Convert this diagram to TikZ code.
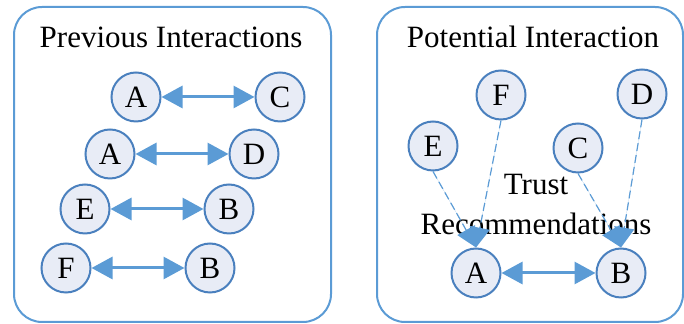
\documentclass[tikz,border=0pt]{standalone}
\usepackage{xcolor}
\usepackage{fontspec}
\setmainfont{Liberation Serif}
\usepackage{tikz}
\usetikzlibrary{arrows.meta}
\usetikzlibrary{calc}
\definecolor{agentfill}{HTML}{E8ECF6}
\definecolor{agentline}{HTML}{4A80BE}
\definecolor{trustline}{HTML}{5B9BD5}

\begin{document}
\begin{tikzpicture}[
  x=0.5pt, y=-0.5pt,
  font=\fontsize{15.5}{20}\selectfont,
  inter/.style ={
    {Triangle[length=10.5pt,width=11pt]}-{Triangle[length=10.5pt,width=11pt]},
    line width=1.5pt, draw=trustline, fill=trustline
  },
  rec/.style ={
    -{Triangle[length=10pt,width=10pt]},
    dash pattern=on 4pt off 2pt, line width=0.6pt, draw=trustline, fill=trustline
  },
  agent/.style={
    circle,
    draw=agentline,
    fill=agentfill,
    line width=1pt,
    minimum size=24.5pt,
    inner sep=0pt},
  panel/.style={
    rectangle,
    draw=trustline,
    line width=1pt,
    rounded corners=14pt},
]

  \def\gap{144}%

  \useasboundingbox (0,0) rectangle (684,324);

    % Panels
  \draw[panel] (14,7) rectangle (331,322);
  \draw[panel] (377,7) rectangle (683,322);

  \node (prevtitle) at (171,37) {Previous Interactions};
  \node (pottitle) at (533,37) {Potential Interaction};

    % Previous Interactions
  \foreach \row/\src/\dst/\lx/\ly in {1/A/C/136/97, 2/A/D/110/154, 3/E/B/85/209, 4/F/B/66/268} {
    \node[agent] (src\row) at (\lx, \ly) {\src};
    \node[agent] (dst\row) at (\lx+\gap, \ly) {\dst};

    \draw[inter] (src\row) to (dst\row);
   }

    % Potential Interaction
    \node[agent] (e) at (433,146) {E};
    \node[agent] (f) at (501,95) {F};
    \node[agent] (c) at (578,148) {C};
    \node[agent] (d) at (642,94) {D};
    \node[agent] (a) at (476,273) {A};
    \node[agent] (b) at (621,273) {B};

    \node[align=center] (trustlbl) at (536,205) {Trust\\Recommendations};

    \draw[rec] (e.south) to (a.north);
    \draw[rec] (f.south) to (a.north);
    \draw[rec] (c.south) to (b.north);
    \draw[rec] (d.south) to (b.north);

    \draw[inter] (a) to (b);

\end{tikzpicture}
\end{document}
